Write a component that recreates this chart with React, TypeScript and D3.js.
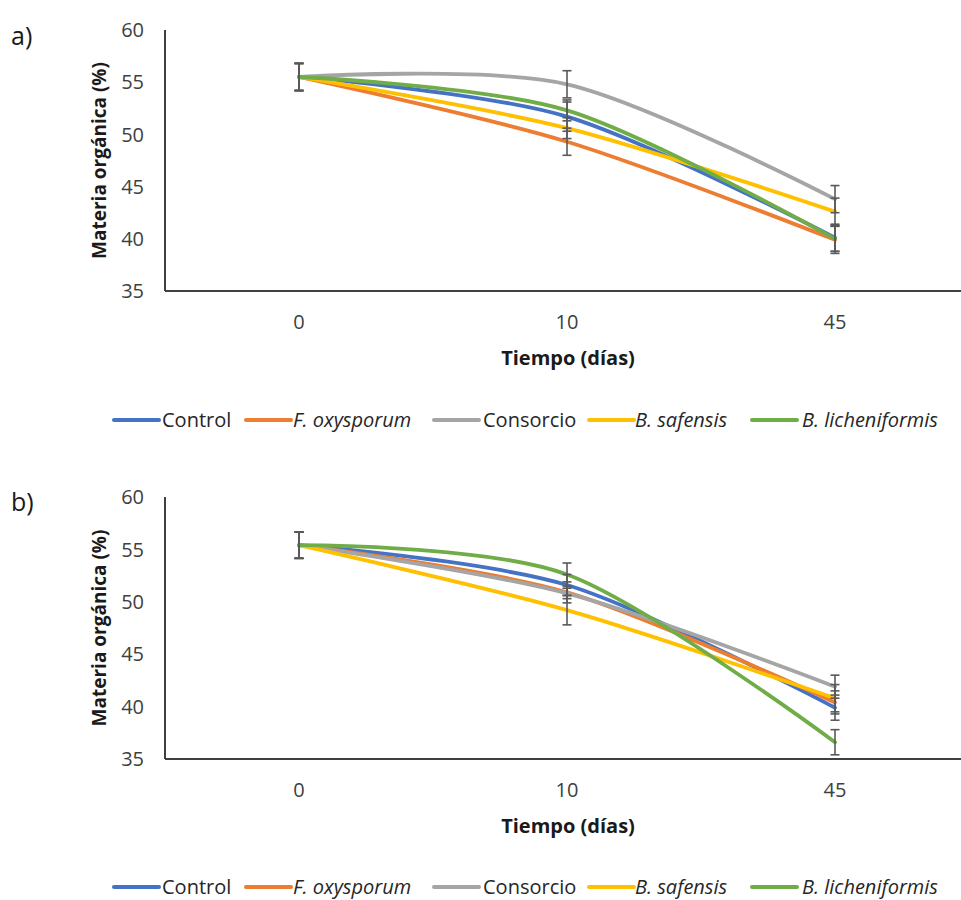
import React from "react";
import * as d3 from "d3";

const days = ["0", "10", "45"];
const yTicks = [35, 40, 45, 50, 55, 60];
const seriesNames = ["Control", "F. oxysporum", "Consorcio", "B. safensis", "B. licheniformis"];
const seriesItalic = [false, true, false, true, true];
const seriesColors = ["#4472C4", "#ED7D31", "#A5A5A5", "#FFC000", "#70AD47"];

// Panel a
const aControl = [55.5, 51.7, 40.1];
const aFoxy = [55.5, 49.3, 39.9];
const aConsorcio = [55.5, 54.8, 43.8];
const aSafensis = [55.5, 50.6, 42.6];
const aLich = [55.5, 52.3, 40.0];
const aErrControl = [1.3, 1.4, 1.3];
const aErrFoxy = [1.3, 1.3, 1.3];
const aErrConsorcio = [1.3, 1.3, 1.3];
const aErrSafensis = [1.3, 1.0, 1.3];
const aErrLich = [1.3, 1.0, 1.2];

// Panel b
const bControl = [55.4, 51.6, 39.9];
const bFoxy = [55.4, 50.9, 40.4];
const bConsorcio = [55.4, 50.8, 41.9];
const bSafensis = [55.4, 49.2, 40.8];
const bLich = [55.4, 52.6, 36.6];
const bErrControl = [1.25, 1.0, 1.2];
const bErrFoxy = [1.25, 1.0, 1.1];
const bErrConsorcio = [1.25, 0.5, 1.1];
const bErrSafensis = [1.25, 1.4, 1.3];
const bErrLich = [1.25, 1.1, 1.2];

const panelA = {
  label: "a)",
  values: [aControl, aFoxy, aConsorcio, aSafensis, aLich],
  errors: [aErrControl, aErrFoxy, aErrConsorcio, aErrSafensis, aErrLich],
};
const panelB = {
  label: "b)",
  values: [bControl, bFoxy, bConsorcio, bSafensis, bLich],
  errors: [bErrControl, bErrFoxy, bErrConsorcio, bErrSafensis, bErrLich],
};

const FONT = "'Open Sans', sans-serif";
const legendLineX = [114, 246, 434, 589, 752];
const legendTextX = [162, 293, 483, 635, 802];

function Panel({ panel, top, bottom, labelY, legendY }: any) {
  const left = 165;
  const right = 969;
  const x = d3.scalePoint<string>().domain(days).range([left, right]).padding(0.5);
  const y = d3.scaleLinear().domain([35, 60]).range([bottom, top]);
  const line = d3
    .line<number>()
    .x((_, i) => x(days[i]) as number)
    .y((d) => y(d))
    .curve(d3.curveCardinal.tension(0.1));
  const mid = (top + bottom) / 2;
  return (
    <g>
      <text x={11} y={labelY} fontFamily={FONT} fontSize={25} fill="#1a1a1a">
        {panel.label}
      </text>
      {yTicks.map((t) => (
        <text key={t} x={144} y={y(t)} dy="0.36em" textAnchor="end" fontFamily={FONT} fontSize={20} fill="#404040">
          {t}
        </text>
      ))}
      {days.map((d) => (
        <text key={d} x={x(d)} y={bottom + 38} textAnchor="middle" fontFamily={FONT} fontSize={20} fill="#404040">
          {d}
        </text>
      ))}
      <text
        transform={`translate(106,${mid}) rotate(-90)`}
        textAnchor="middle"
        fontFamily={FONT}
        fontSize={19}
        fontWeight="bold"
        fill="#1a1a1a"
      >
        Materia orgánica (%)
      </text>
      <text x={568} y={bottom + 74} textAnchor="middle" fontFamily={FONT} fontSize={20} fontWeight="bold" fill="#1a1a1a">
        Tiempo (días)
      </text>
      <line x1={left} x2={left} y1={top} y2={bottom} stroke="#404040" strokeWidth={2} />
      <line x1={left} x2={right} y1={bottom} y2={bottom} stroke="#404040" strokeWidth={2} />
      {panel.values.map((vals: number[], si: number) => (
        <path key={si} d={line(vals) as string} fill="none" stroke={seriesColors[si]} strokeWidth={3.8} strokeLinecap="round" />
      ))}
      {panel.values.map((vals: number[], si: number) =>
        vals.map((v, i) => {
          const e = panel.errors[si][i];
          const cx = x(days[i]) as number;
          return (
            <g key={`${si}-${i}`} stroke="#595959" strokeWidth={1.6}>
              <line x1={cx} x2={cx} y1={y(v + e)} y2={y(v - e)} />
              <line x1={cx - 4.5} x2={cx + 4.5} y1={y(v + e)} y2={y(v + e)} />
              <line x1={cx - 4.5} x2={cx + 4.5} y1={y(v - e)} y2={y(v - e)} />
            </g>
          );
        })
      )}
      {seriesNames.map((n, si) => (
        <g key={n}>
          <line
            x1={legendLineX[si]}
            x2={legendLineX[si] + 45}
            y1={legendY}
            y2={legendY}
            stroke={seriesColors[si]}
            strokeWidth={4}
            strokeLinecap="round"
          />
          <text
            x={legendTextX[si]}
            y={legendY}
            dy="0.36em"
            fontFamily={FONT}
            fontSize={20}
            fontStyle={seriesItalic[si] ? "italic" : "normal"}
            fill="#262626"
          >
            {n}
          </text>
        </g>
      ))}
    </g>
  );
}

export default function App() {
  return (
    <div style={{ position: "absolute", left: 0, top: 0 }}>
      <svg width={961} height={900} style={{ display: "block", background: "#fff" }}>
        <rect width={961} height={900} fill="#fff" />
        <Panel panel={panelA} top={30} bottom={291} labelY={45} legendY={420} />
        <Panel panel={panelB} top={497} bottom={759} labelY={511} legendY={887} />
      </svg>
    </div>
  );
}
